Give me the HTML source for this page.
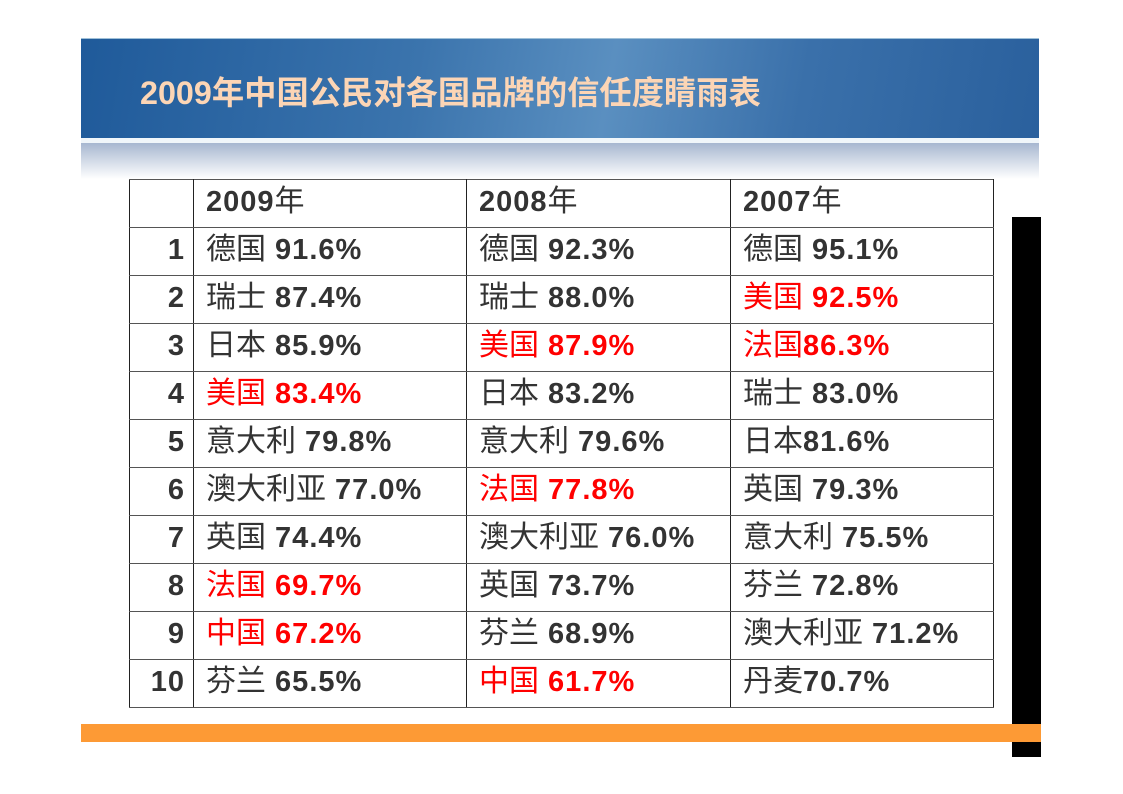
<!DOCTYPE html>
<html><head><meta charset="utf-8"><style>
html,body{margin:0;padding:0;background:#fff;width:1123px;height:794px;overflow:hidden;position:relative;font-family:"Liberation Sans","Noto Sans CJK SC",sans-serif}
.hdr{position:absolute;left:81px;top:38px;width:958px;height:100px;background:linear-gradient(100deg,#1f5a9a 0%,#3b74ad 35%,#5a8fc0 55%,#3a70aa 75%,#2a609d 100%);border-top:1px solid #9fc0d8}
.hdr .t{position:absolute;left:59px;top:29px;font-size:32.3px;font-weight:bold;color:#fcd5b5;white-space:nowrap;letter-spacing:0px}
.sh{position:absolute;left:81px;top:143px;width:958px;height:36px;background:linear-gradient(#a7b7d0,#fff)}
.wl{position:absolute;left:81px;top:138px;width:958px;height:5px;background:#f0f6fa}
table{position:absolute;left:129px;top:179px;border-collapse:collapse;table-layout:fixed}
td{border:1.5px solid #222;border-top-color:#555;border-bottom-color:#555;height:43px;line-height:40px;padding:0 0 4px 12px;font-size:29px;font-weight:bold;color:#333;letter-spacing:1px;white-space:nowrap;vertical-align:middle;box-sizing:content-box}
td.n{text-align:right;padding:0 8px 4px 0}
td span{font-weight:normal;font-size:30px;line-height:30px;letter-spacing:0;font-family:"Noto Sans CJK SC","WenQuanYi Zen Hei",sans-serif}
tr.h td{vertical-align:top;padding-top:2px;padding-bottom:5px;height:39px}
.r{color:#f00}
.blk{position:absolute;left:1012px;top:217px;width:29px;height:540px;background:#000}
.or{position:absolute;left:81px;top:724px;width:960px;height:18px;background:#fd9a35}
</style></head><body>
<div class="hdr"><div class="t">2009年中国公民对各国品牌的信任度睛雨表</div></div>
<div class="wl"></div>
<div class="sh"></div>
<div class="blk"></div>
<table>
<colgroup><col style="width:64px"><col style="width:273px"><col style="width:264px"><col style="width:263px"></colgroup>
<tr class="h"><td></td><td>2009<span>年</span></td><td>2008<span>年</span></td><td>2007<span>年</span></td></tr>
<tr><td class="n">1</td><td><span>德国</span> 91.6%</td><td><span>德国</span> 92.3%</td><td><span>德国</span> 95.1%</td></tr>
<tr><td class="n">2</td><td><span>瑞士</span> 87.4%</td><td><span>瑞士</span> 88.0%</td><td class="r"><span>美国</span> 92.5%</td></tr>
<tr><td class="n">3</td><td><span>日本</span> 85.9%</td><td class="r"><span>美国</span> 87.9%</td><td class="r"><span>法国</span>86.3%</td></tr>
<tr><td class="n">4</td><td class="r"><span>美国</span> 83.4%</td><td><span>日本</span> 83.2%</td><td><span>瑞士</span> 83.0%</td></tr>
<tr><td class="n">5</td><td><span>意大利</span> 79.8%</td><td><span>意大利</span> 79.6%</td><td><span>日本</span>81.6%</td></tr>
<tr><td class="n">6</td><td><span>澳大利亚</span> 77.0%</td><td class="r"><span>法国</span> 77.8%</td><td><span>英国</span> 79.3%</td></tr>
<tr><td class="n">7</td><td><span>英国</span> 74.4%</td><td><span>澳大利亚</span> 76.0%</td><td><span>意大利</span> 75.5%</td></tr>
<tr><td class="n">8</td><td class="r"><span>法国</span> 69.7%</td><td><span>英国</span> 73.7%</td><td><span>芬兰</span> 72.8%</td></tr>
<tr><td class="n">9</td><td class="r"><span>中国</span> 67.2%</td><td><span>芬兰</span> 68.9%</td><td><span>澳大利亚</span> 71.2%</td></tr>
<tr><td class="n">10</td><td><span>芬兰</span> 65.5%</td><td class="r"><span>中国</span> 61.7%</td><td><span>丹麦</span>70.7%</td></tr>
</table>
<div class="or"></div>
</body></html>
